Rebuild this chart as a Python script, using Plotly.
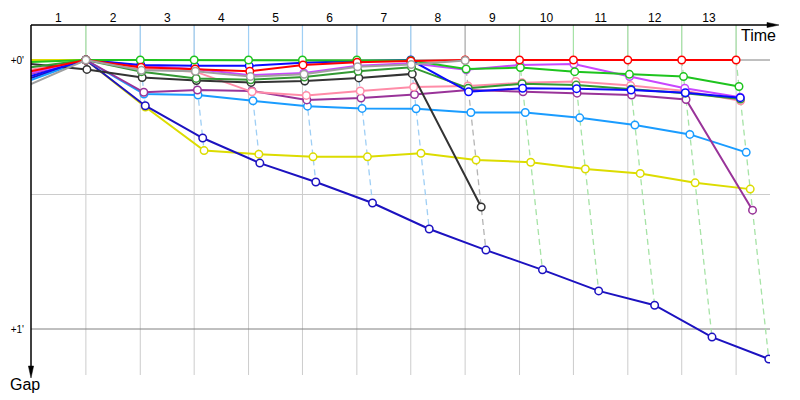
import plotly.graph_objects as go

# ---------------- data (gaps in seconds to the leader, time in seconds) ----------------
laps = list(range(1, 14))
leader_times = [112, 223, 333, 444, 554, 665, 775, 886, 997, 1107, 1218, 1328, 1439]
lap_labels = [str(n) for n in laps]
gap_ticks = [0, 60]
gap_tick_labels = ["+0'", "+1'"]

start_yellow = 0.0
gap_yellow = [0, 10.5, 20.2, 21.0, 21.6, 21.6, 20.8, 22.3, 22.8, 24.3, 25.3, 27.4, 28.8]
start_darkblue = 4.0
gap_darkblue = [0, 10.2, 17.4, 23.0, 27.2, 31.9, 37.7, 42.4, 46.8, 51.5, 54.7, 61.8, 66.7]
start_lightblue = 4.5
gap_lightblue = [0, 7.6, 7.8, 9.1, 10.3, 10.8, 10.9, 11.7, 11.7, 12.9, 14.5, 16.6, 20.6]
start_purple = 3.1
gap_purple = [0, 7.2, 6.7, 6.9, 8.9, 8.5, 7.7, 6.7, 7.1, 7.4, 7.8, 8.8, 33.5]
start_pink = 2.2
gap_pink = [0, 1.9, 2.6, 7.1, 7.9, 6.9, 6.0, 5.8, 5.1, 4.8, 5.7, 6.9, 9.1]
start_black = 0.9
gap_black = [2.1, 3.9, 4.6, 5.0, 4.7, 4.0, 3.1, 32.8]
start_darkgreen = 1.6
gap_darkgreen = [0, 2.6, 4.1, 4.4, 3.8, 2.5, 1.6, 6.3, 5.3, 5.6, 6.5, 7.4, 8.7]
start_magenta = 2.9
gap_magenta = [0, 1.3, 2.0, 3.4, 2.9, 1.3, 0.7, 2.2, 1.1, 0.9, 3.7, 6.3, 8.3]
start_blue = 3.6
gap_blue = [0, 1.1, 1.3, 1.3, 0.6, 0.2, 0, 7.1, 6.3, 6.4, 6.7, 7.3, 8.4]
start_green = 0.45
gap_green = [0, 0, 0, 0, 0, 0, 0.1, 2.0, 1.7, 2.6, 3.2, 3.7, 5.9]
start_red = 2.5
gap_red = [0, 1.6, 2.0, 2.5, 1.1, 0.5, 0.2, 0, 0, 0, 0, 0, 0]
start_grey = 5.4
gap_grey = [0, 2.3, 2.5, 3.7, 3.2, 1.5, 1.0, 0.1]

# ---------------- styles ----------------
series = [
    ("yellow", "#dcdc00", start_yellow, gap_yellow),
    ("dark blue", "#1c12c0", start_darkblue, gap_darkblue),
    ("light blue", "#1a9cff", start_lightblue, gap_lightblue),
    ("purple", "#993399", start_purple, gap_purple),
    ("pink", "#ff8ca8", start_pink, gap_pink),
    ("black", "#333333", start_black, gap_black),
    ("dark green", "#339933", start_darkgreen, gap_darkgreen),
    ("magenta", "#c847ff", start_magenta, gap_magenta),
    ("blue", "#0a0aff", start_blue, gap_blue),
    ("green", "#1ec41e", start_green, gap_green),
    ("red", "#ff0000", start_red, gap_red),
    ("grey", "#a0a0a0", start_grey, gap_grey),
]
lap_line_colors = ["#a6e3a6"] + ["#9fcff5"] * 6 + ["#b4b4b4"] + ["#a6e3a6"] * 5

W, H = 800, 400
L, R, T, B = 31, 30, 25, 25
PX_PER_S_X = 0.49
PX_PER_S_Y = 269 / 60.0
x_range = [0, (W - L - R) / PX_PER_S_X]
y_top = -(60 - T) / PX_PER_S_Y
y_bottom = (H - B - 60) / PX_PER_S_Y
y_range = [y_bottom, y_top]

pw, ph = W - L - R, H - T - B


def px2paper(px, py):
    return (px - L) / pw, (H - B - py) / ph


fig = go.Figure()

# lap lines: vertical segment above the leader, then dashed line through every car's crossing
for k, t in enumerate(leader_times):
    col = lap_line_colors[k]
    fig.add_trace(go.Scatter(x=[t, t], y=[y_top, 0], mode="lines",
                             line=dict(color=col, width=1.2), hoverinfo="skip", showlegend=False))
    gs = sorted(s[3][k] for s in series if len(s[3]) > k)
    gs = [0] + gs if gs[0] != 0 else gs
    fig.add_trace(go.Scatter(x=[t + g for g in gs], y=gs, mode="lines",
                             line=dict(color=col, width=1.3, dash="6px,4px"),
                             hoverinfo="skip", showlegend=False))

for name, col, st, gp in series:
    xs = [0] + [leader_times[i] + g for i, g in enumerate(gp)]
    ys = [st] + list(gp)
    fig.add_trace(go.Scatter(x=xs, y=ys, mode="lines", line=dict(color=col, width=2),
                             name=name, showlegend=False, hoverinfo="skip"))
    fig.add_trace(go.Scatter(x=xs[1:], y=ys[1:], mode="markers",
                             marker=dict(size=7.5, color="white", line=dict(color=col, width=1.5)),
                             name=name, showlegend=False))

shapes = []
for t in leader_times:
    shapes.append(dict(type="line", xref="x", yref="paper", x0=t, x1=t, y0=0, y1=1,
                       line=dict(color="#cccccc", width=1), layer="below"))
for g, c in [(0, "#808080"), (30, "#cccccc"), (60, "#808080")]:
    shapes.append(dict(type="line", xref="paper", yref="y", x0=0, x1=1, y0=g, y1=g,
                       line=dict(color=c, width=1), layer="below"))

# axes with arrows
x0, y0 = px2paper(31, 25)
x1, _ = px2paper(768, 25)
shapes.append(dict(type="line", xref="paper", yref="paper", x0=x0, y0=y0, x1=x1, y1=y0,
                   line=dict(color="black", width=1.5)))
a, b = px2paper(779, 25)
c1, d1 = px2paper(767, 22.4)
c2, d2 = px2paper(767, 27.6)
shapes.append(dict(type="path", xref="paper", yref="paper",
                   path=f"M{a},{b} L{c1},{d1} L{c2},{d2} Z", fillcolor="black",
                   line=dict(color="black", width=0.5)))
_, yb = px2paper(31, 368)
shapes.append(dict(type="line", xref="paper", yref="paper", x0=x0, y0=y0, x1=x0, y1=yb,
                   line=dict(color="black", width=1.5)))
a, b = px2paper(31, 378)
c1, d1 = px2paper(28.4, 366)
c2, d2 = px2paper(33.6, 366)
shapes.append(dict(type="path", xref="paper", yref="paper",
                   path=f"M{a},{b} L{c1},{d1} L{c2},{d2} Z", fillcolor="black",
                   line=dict(color="black", width=0.5)))

mids = [(([0] + leader_times)[i] + leader_times[i]) / 2 for i in range(len(leader_times))]

tx, ty = px2paper(758, 35)
gx, gy = px2paper(25, 385)
fig.update_layout(
    width=W, height=H, margin=dict(l=L, r=R, t=T, b=B, pad=0),
    paper_bgcolor="white", plot_bgcolor="white",
    font=dict(family="Liberation Sans, Arial, sans-serif", color="black"),
    showlegend=False, shapes=shapes,
    xaxis=dict(range=x_range, side="top", tickmode="array", tickvals=mids, ticktext=lap_labels,
               showgrid=False, zeroline=False, showline=False, ticks="",
               tickfont=dict(size=12, color="black")),
    yaxis=dict(range=y_range, tickmode="array", tickvals=gap_ticks, ticktext=gap_tick_labels,
               showgrid=False, zeroline=False, showline=False, ticks="",
               ticklabelstandoff=6, tickfont=dict(size=10, color="black")),
    annotations=[
        dict(text="Time", xref="paper", yref="paper", x=tx, y=ty, showarrow=False,
             font=dict(size=16), xanchor="center", yanchor="middle"),
        dict(text="Gap", xref="paper", yref="paper", x=gx, y=gy, showarrow=False,
             font=dict(size=16), xanchor="center", yanchor="middle"),
    ],
)

fig.write_html("out.html")
